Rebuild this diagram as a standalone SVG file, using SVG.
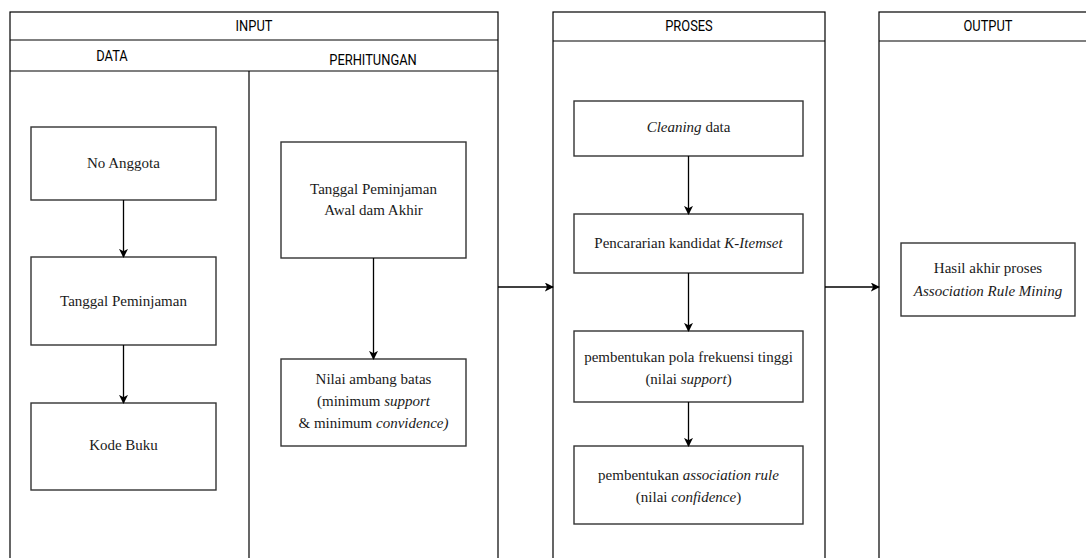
<svg xmlns="http://www.w3.org/2000/svg" width="1086" height="558" viewBox="0 0 1086 558">
  <style>
    .lane { fill: #ffffff; stroke: #000000; stroke-width: 1.2; }
    .hline { stroke: #000000; stroke-width: 1.2; fill: none; }
    .box { fill: #ffffff; stroke: #333333; stroke-width: 1.4; }
    .hdr { font-family: Roboto, "Liberation Sans", sans-serif; font-size: 15px; fill: #000000; text-anchor: middle; }
    .lbl { font-family: "Liberation Serif", "Times New Roman", serif; font-size: 15px; fill: #1a1a1a; text-anchor: middle; }
    .it { font-style: italic; }
    .edge { stroke: #000000; stroke-width: 1.3; fill: none; marker-end: url(#arrow); }
  </style>
  <defs>
    <marker id="arrow" viewBox="0 0 10 10" refX="9" refY="5" markerWidth="9" markerHeight="9" markerUnits="userSpaceOnUse" orient="auto">
      <path d="M0,0 L10,5 L0,10 L2.5,5 z" fill="#000000"/>
    </marker>
  </defs>

  <rect width="1086" height="558" fill="#ffffff"/>

  <!-- INPUT pool with DATA and PERHITUNGAN lanes -->
  <g id="lane-input">
    <rect class="lane" x="10" y="12" width="488" height="560"/>
    <line class="hline" x1="10" y1="40" x2="498" y2="40" stroke-width="2"/>
    <line class="hline" x1="10" y1="71" x2="498" y2="71"/>
    <line class="hline" x1="249" y1="71" x2="249" y2="572"/>
    <text class="hdr" transform="translate(254,31) scale(0.86,1)">INPUT</text>
    <text class="hdr" transform="translate(112,61) scale(0.86,1)">DATA</text>
    <text class="hdr" transform="translate(373,65) scale(0.86,1)">PERHITUNGAN</text>
  </g>

  <!-- PROSES lane -->
  <g id="lane-proses">
    <rect class="lane" x="553" y="12" width="272" height="560"/>
    <line class="hline" x1="553" y1="41" x2="825" y2="41"/>
    <text class="hdr" transform="translate(689,31) scale(0.86,1)">PROSES</text>
  </g>

  <!-- OUTPUT lane -->
  <g id="lane-output">
    <rect class="lane" x="879" y="12" width="220" height="560"/>
    <line class="hline" x1="879" y1="41" x2="1099" y2="41"/>
    <text class="hdr" transform="translate(988,31) scale(0.86,1)">OUTPUT</text>
  </g>

  <!-- DATA lane nodes -->
  <g id="no-anggota">
    <rect class="box" x="31" y="127" width="185" height="73"/>
    <text class="lbl" x="123.5" y="168">No Anggota</text>
  </g>
  <g id="tanggal-peminjaman">
    <rect class="box" x="31" y="257" width="185" height="88"/>
    <text class="lbl" x="123.5" y="306">Tanggal Peminjaman</text>
  </g>
  <g id="kode-buku">
    <rect class="box" x="31" y="403" width="185" height="87"/>
    <text class="lbl" x="123.5" y="450">Kode Buku</text>
  </g>

  <!-- PERHITUNGAN lane nodes -->
  <g id="tanggal-awal-akhir">
    <rect class="box" x="281" y="142" width="185" height="116"/>
    <text class="lbl" x="373.5" y="194">Tanggal Peminjaman</text>
    <text class="lbl" x="373.5" y="215">Awal dam Akhir</text>
  </g>
  <g id="nilai-ambang">
    <rect class="box" x="281" y="359" width="185" height="87"/>
    <text class="lbl" x="373.5" y="384">Nilai ambang batas</text>
    <text class="lbl" x="373.5" y="406">(minimum <tspan class="it">support</tspan></text>
    <text class="lbl" x="373.5" y="428">&amp; minimum <tspan class="it">convidence)</tspan></text>
  </g>

  <!-- PROSES lane nodes -->
  <g id="cleaning">
    <rect class="box" x="574" y="101" width="229" height="55"/>
    <text class="lbl" x="688.5" y="132"><tspan class="it">Cleaning</tspan> data</text>
  </g>
  <g id="kandidat">
    <rect class="box" x="574" y="214" width="229" height="59"/>
    <text class="lbl" x="688.5" y="248">Pencararian kandidat <tspan class="it">K-Itemset</tspan></text>
  </g>
  <g id="pola-frekuensi">
    <rect class="box" x="574" y="331" width="229" height="71"/>
    <text class="lbl" x="688.5" y="362">pembentukan pola frekuensi tinggi</text>
    <text class="lbl" x="688.5" y="384">(nilai <tspan class="it">support</tspan>)</text>
  </g>
  <g id="association-rule">
    <rect class="box" x="574" y="446" width="229" height="78"/>
    <text class="lbl" x="688.5" y="480">pembentukan <tspan class="it">association rule</tspan></text>
    <text class="lbl" x="688.5" y="502">(nilai <tspan class="it">confidence</tspan>)</text>
  </g>

  <!-- OUTPUT lane node -->
  <g id="hasil-akhir">
    <rect class="box" x="901" y="243" width="174" height="73"/>
    <text class="lbl" x="988" y="273">Hasil akhir proses</text>
    <text class="lbl it" x="988" y="296">Association Rule Mining</text>
  </g>

  <!-- connectors -->
  <g id="connectors">
    <line class="edge" x1="123.5" y1="200" x2="123.5" y2="257"/>
    <line class="edge" x1="123.5" y1="345" x2="123.5" y2="403"/>
    <line class="edge" x1="373.5" y1="258" x2="373.5" y2="359"/>
    <line class="edge" x1="498" y1="287" x2="553" y2="287"/>
    <line class="edge" x1="825" y1="287" x2="879" y2="287"/>
    <line class="edge" x1="688.5" y1="156" x2="688.5" y2="214"/>
    <line class="edge" x1="688.5" y1="273" x2="688.5" y2="331"/>
    <line class="edge" x1="688.5" y1="402" x2="688.5" y2="446"/>
  </g>
</svg>
